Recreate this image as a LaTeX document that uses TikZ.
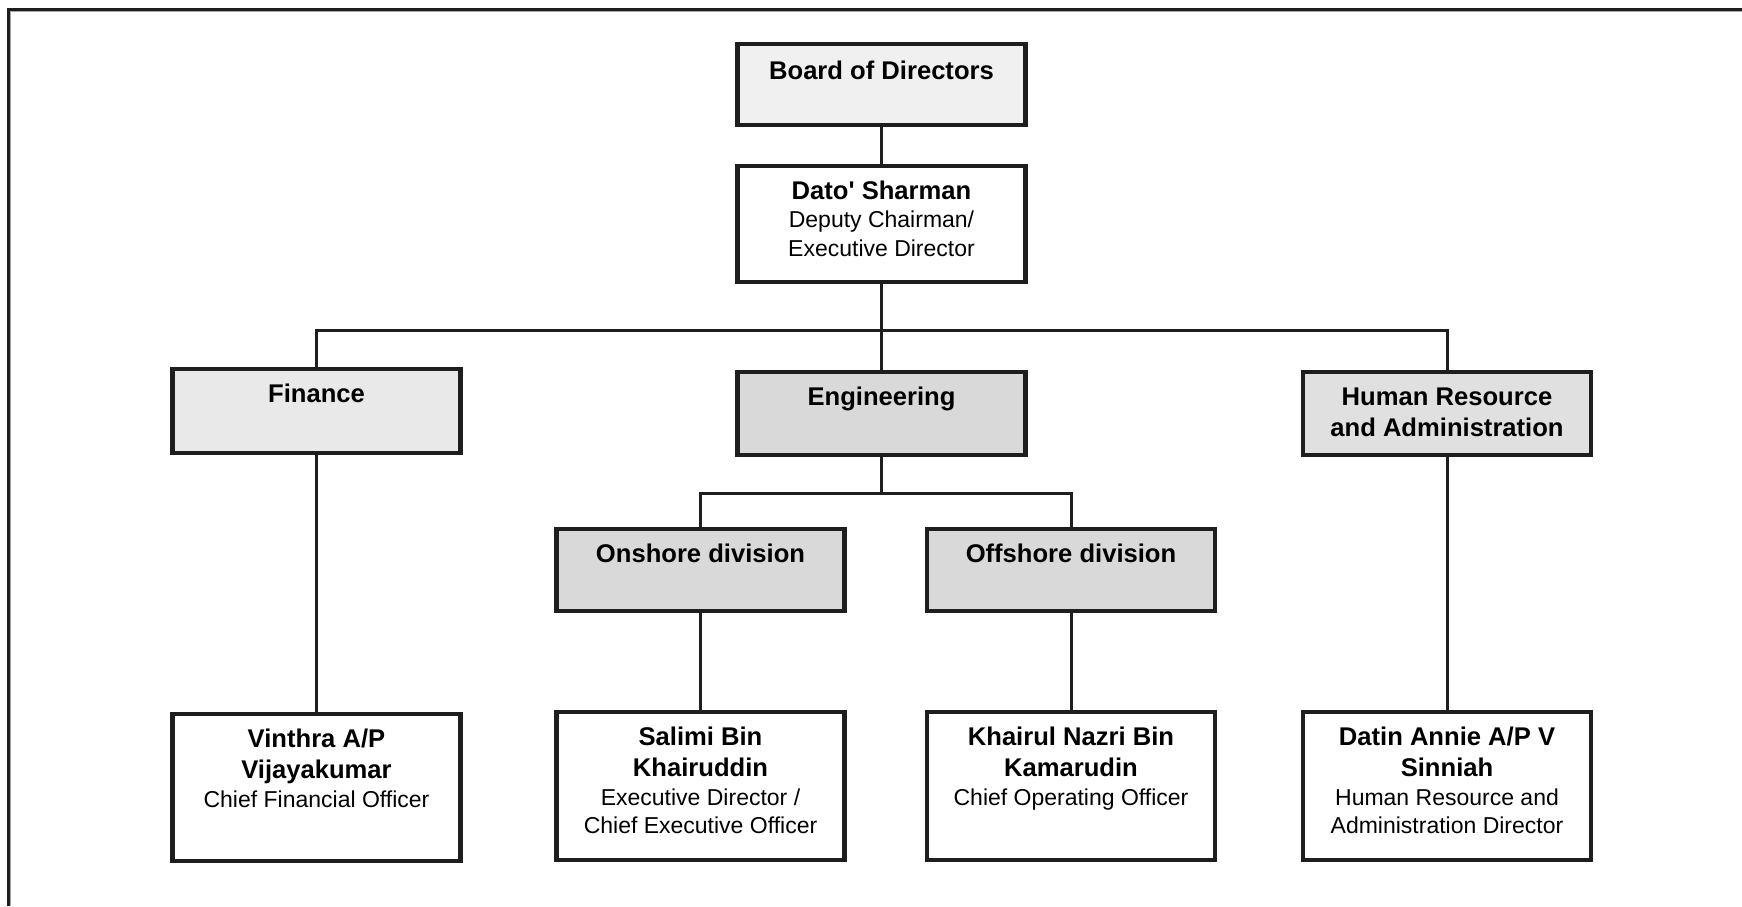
\documentclass[tikz,border=0pt]{standalone}
\usepackage{fontspec}
\setmainfont{Liberation Sans}
\newcommand\boldtxt{\fontsize{25.6}{31}\selectfont\bfseries}
\newcommand\normtxt{\fontsize{23}{28}\selectfont\mdseries}
\newcommand\firststrut{\rule{0pt}{20pt}}
\definecolor{linec}{HTML}{1E1E1E}
\definecolor{fillboard}{HTML}{F0F0F0}
\definecolor{fillfin}{HTML}{E9E9E9}
\definecolor{filleng}{HTML}{D9D9D9}
\definecolor{fillhr}{HTML}{E0E0E0}
\begin{document}
\begin{tikzpicture}[x=1pt,y=-1pt,
  box/.style={rectangle, draw=linec, line width=4.5pt, minimum width=288pt, inner sep=0pt, fill=white},
  txt/.style={anchor=north, align=center, inner sep=0pt, font=\fontsize{25.6}{31}\selectfont, yshift=-16pt, text=black},
  conn/.style={draw=linec, line width=3pt}]
\useasboundingbox (0,0) rectangle (1742,906);
% frame (top and left only)
\draw[line width=2.5pt, draw=linec] (8.25,906) -- (8.25,9.25) -- (1742,9.25);
\draw[line width=1pt, draw=gray!70] (10,906) -- (10,11) -- (1742,11);

% connector junctions
\coordinate (bar) at (881.5,330);
\coordinate (ebar) at (881.5,493);

% boxes
\node[box, fill=fillboard, minimum height=81pt] (board) at (881.5,84.5) {};
\node[box, minimum height=116pt] (dato) at (881.5,224) {};
\node[box, fill=fillfin, minimum height=84pt] (fin) at (316.5,411) {};
\node[box, fill=filleng, minimum height=83pt] (eng) at (881.5,413.5) {};
\node[box, fill=fillhr, minimum height=83pt] (hr) at (1447,413.5) {};
\node[box, fill=filleng, minimum height=82pt] (on) at (700.5,570) {};
\node[box, fill=filleng, minimum height=82pt] (off) at (1071,570) {};
\node[box, minimum height=147pt] (vin) at (316.5,787.5) {};
\node[box, minimum height=148pt] (sal) at (700.5,786) {};
\node[box, minimum height=148pt] (kha) at (1071,786) {};
\node[box, minimum height=148pt] (dat) at (1447,786) {};

\draw[conn] (board.south) -- (dato.north);
\draw[conn] (dato.south) -- (eng.north);
\draw[conn] (fin.north) |- (bar) -| (hr.north);
\draw[conn] (eng.south) -- (ebar);
\draw[conn] (on.north) |- (ebar) -| (off.north);
\draw[conn] (fin.south) -- (vin.north);
\draw[conn] (on.south) -- (sal.north);
\draw[conn] (off.south) -- (kha.north);
\draw[conn] (hr.south) -- (dat.north);

% texts
\node[txt, yshift=-1.5pt] (boardt) at (board.north) {\boldtxt\firststrut Board of Directors};
\node[txt] (datot) at (dato.north) {\boldtxt\firststrut Dato\textquotesingle{} Sharman\\[-3pt]
  \normtxt Deputy Chairman/\\[-2pt] \normtxt Executive Director};
\node[txt] (fint) at (fin.north) {\boldtxt\firststrut Finance};
\node[txt] (engt) at (eng.north) {\boldtxt\firststrut Engineering};
\node[txt] (hrt) at (hr.north) {\boldtxt\firststrut Human Resource\\ \boldtxt and Administration};
\node[txt] (ont) at (on.north) {\boldtxt\firststrut Onshore division};
\node[txt] (offt) at (off.north) {\boldtxt\firststrut Offshore division};
\node[txt] (vint) at (vin.north) {\boldtxt\firststrut Vinthra A/P\\ \boldtxt Vijayakumar\\[-2pt]
  \normtxt Chief Financial Officer};
\node[txt] (salt) at (sal.north) {\boldtxt\firststrut Salimi Bin\\ \boldtxt Khairuddin\\[-2pt]
  \normtxt Executive Director /\\[-3pt] \normtxt Chief Executive Officer};
\node[txt] (khat) at (kha.north) {\boldtxt\firststrut Khairul Nazri Bin\\ \boldtxt Kamarudin\\[-2pt]
  \normtxt Chief Operating Officer};
\node[txt] (datt) at (dat.north) {\boldtxt\firststrut Datin Annie A/P V\\ \boldtxt Sinniah\\[-2pt]
  \normtxt Human Resource and\\[-3pt] \normtxt Administration Director};
\end{tikzpicture}
\end{document}
